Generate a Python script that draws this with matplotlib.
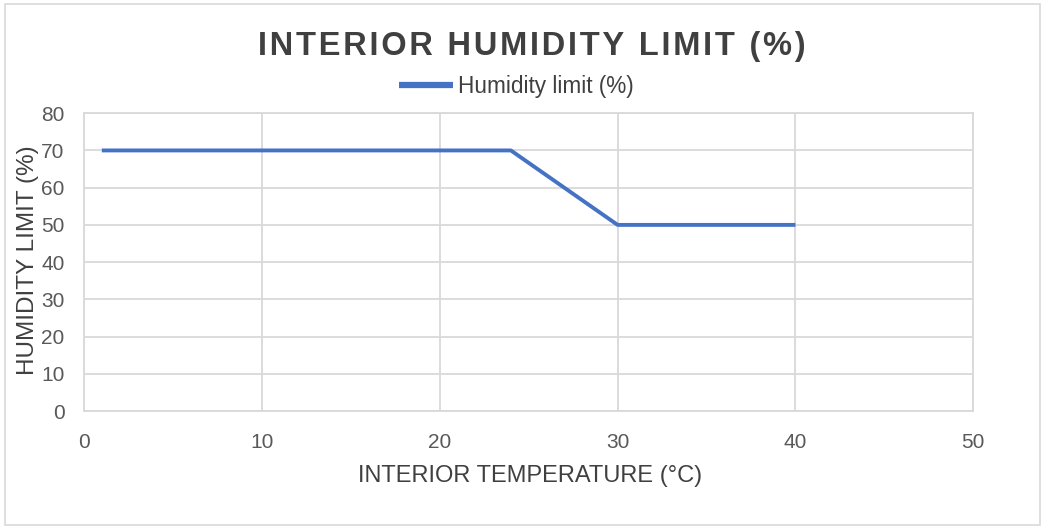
import matplotlib
matplotlib.use("Agg")
import matplotlib.pyplot as plt
from matplotlib.patches import Rectangle

temperature = [1, 24, 30, 40]
humidity_limit = [70, 70, 50, 50]
x_ticks = [0, 10, 20, 30, 40, 50]
y_ticks = [0, 10, 20, 30, 40, 50, 60, 70, 80]

title = "INTERIOR HUMIDITY LIMIT (%)"
series_name = "Humidity limit (%)"
x_label = "INTERIOR TEMPERATURE (°C)"
y_label = "HUMIDITY LIMIT (%)"

plt.rcParams['font.family'] = ['Liberation Sans', 'DejaVu Sans']

fig = plt.figure(figsize=(10.45, 5.29), dpi=100)
fig.patch.set_facecolor('white')
fig.patches.append(Rectangle((0.005, 0.008), 0.99, 0.984, transform=fig.transFigure,
                             fill=False, edgecolor='#d9d9d9', lw=1.2))

ax = fig.add_axes([0.0804, 0.223, 0.851, 0.563])
ax.plot(temperature, humidity_limit, color='#4472C4', lw=2.8, solid_capstyle='butt',
        label=series_name, zorder=3)
ax.set_xlim(0, 50)
ax.set_ylim(0, 80)
ax.set_xticks(x_ticks)
ax.set_yticks(y_ticks)
ax.grid(True, color='#d9d9d9', lw=1.3)
ax.set_axisbelow(True)
for s in ax.spines.values():
    s.set_color('#d9d9d9')
    s.set_linewidth(1.3)
ax.tick_params(length=0, labelsize=15, colors='#595959')
ax.tick_params(axis='x', pad=16)
ax.tick_params(axis='y', pad=14)

spaced_title = "\u200a".join(title)
fig.text(0.509, 0.912, spaced_title, ha='center', va='center', fontsize=23.5,
         fontweight='bold', color='#404040')

# legend
leg = fig.legend(handles=ax.get_lines(), loc='center', bbox_to_anchor=(0.494, 0.837),
                 frameon=False, fontsize=16.3, handlelength=2.4, handletextpad=0.2,
                 labelcolor='#404040')
leg.get_lines()[0].set_linewidth(4.5)

fig.text(0.507, 0.10, x_label, ha='center', va='center', fontsize=17, color='#404040')
fig.text(0.027, 0.508, y_label, ha='center', va='center', rotation=90, fontsize=17.5,
         color='#404040')

fig.savefig("out.png", dpi=100)
